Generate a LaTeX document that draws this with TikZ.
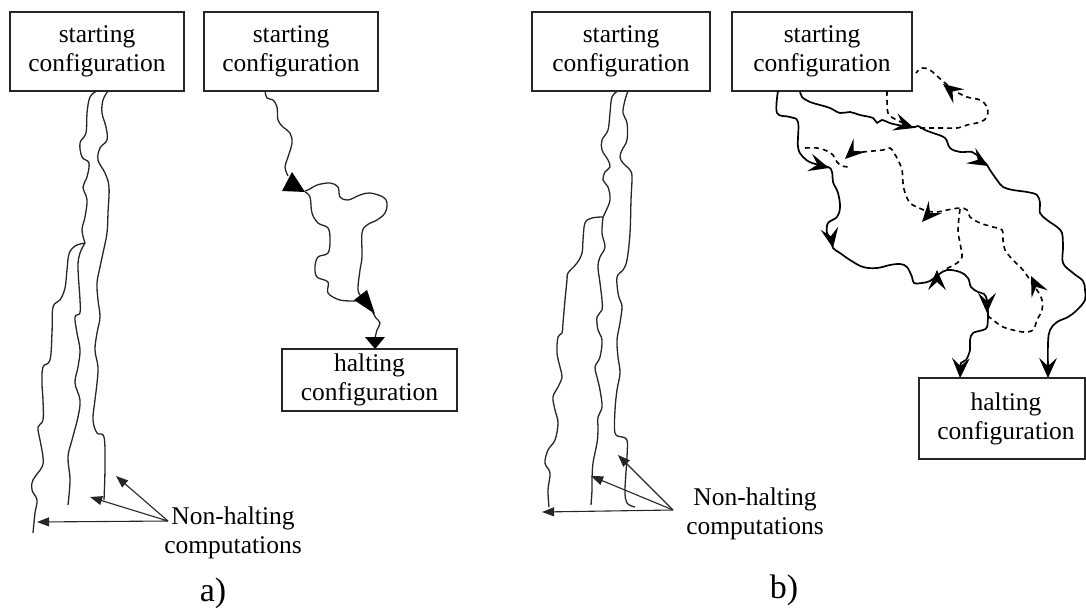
\documentclass[tikz,border=0pt]{standalone}
\usepackage{fontspec}
\setmainfont{Liberation Serif}
\usetikzlibrary{calc}
\tikzset{
  cfg/.style={draw=black!85, line width=1.4pt, fill=white, align=center, inner sep=0pt,
              font=\fontsize{25.5}{29}\selectfont},
  wig/.style={line width=1.3pt, black!85, line join=round},
  sol/.style={line width=1.7pt, black, line join=round},
  dsh/.style={line width=1.6pt, black, dash pattern=on 5pt off 4pt},
  ptr/.style={line width=1.1pt, black!85},
  lbl/.style={align=center, font=\fontsize{25.5}{29}\selectfont, inner sep=0pt},
  subcap/.style={font=\fontsize{34}{34}\selectfont, inner sep=0pt},
  tri/.style={fill=black}
}
% barbed head: #1 = point behind the head, #2 = apex
\newcommand\barbhead[2]{\fill (#2) -- ($(#2)!22pt!24:(#1)$) -- ($(#2)!12pt!(#1)$) -- ($(#2)!22pt!-24:(#1)$) -- cycle;}
% small solid triangle head for the label pointers
\newcommand\trihead[2]{\fill[black!85] (#2) -- ($(#2)!13pt!21:(#1)$) -- ($(#2)!13pt!-21:(#1)$) -- cycle;}
\begin{document}
\begin{tikzpicture}[x=1pt,y=-1pt]
\useasboundingbox (0,0) rectangle (1086,610);

% ---------------- part a) ----------------
\node[cfg, minimum width=174pt, minimum height=79pt] (startA) at (97,51.5) {starting\\configuration};
\node[cfg, minimum width=174pt, minimum height=79pt] (startA2) at (291,51.5) {starting\\configuration};
\node[cfg, minimum width=175pt, minimum height=62pt] (haltA) at (369.5,380) {halting\\configuration};

% non-halting runs from the first start box
\draw[wig] plot[smooth, tension=0.6] coordinates {(108,91) (103,100) (102,113) (106,127) (107,140) (100,148) (98,160) (105,173) (109,187) (108,213) (107,233) (103,253) (100,267) (97,283) (98,300) (100,317) (97,333) (95,350) (98,367) (97,383) (95,400) (93,420) (97,433) (104,437) (105,467) (104,500)};
\draw[wig] plot[smooth, tension=0.6] coordinates {(97,91) (90,97) (87,113) (86,133) (80,143) (82,157) (89,163) (87,177) (83,187) (87,200) (85,217) (82,230) (85,243)};
\draw[wig] plot[smooth, tension=0.6] coordinates {(85,243) (75,246) (69,254) (67,270) (65,288) (60,300) (53,307) (52,333) (50,360) (43,367) (42,383) (43,400) (43,420) (38,427) (40,440) (43,457) (42,467) (33,480) (32,490) (37,500) (35,513) (33,533)};
\draw[wig] plot[smooth, tension=0.6] coordinates {(85,243) (80,253) (78,267) (80,300) (80,313) (75,317) (77,333) (80,350) (78,367) (75,383) (80,400) (78,417) (72,440) (68,457) (70,480) (68,505)};

\node[lbl] (nhA) at (233,532.5) {Non-halting\\computations};
\coordinate (nhAo) at (168,521);
\coordinate (tA1) at (116,476);
\coordinate (tA2) at (90,497);
\coordinate (tA3) at (37,522);
\foreach \t in {tA1,tA2,tA3}{
  \draw[ptr] (nhAo) -- ($(\t)!8pt!(nhAo)$);
  \trihead{nhAo}{\t}
}

% halting run from the second start box
\draw[wig] plot[smooth, tension=0.6] coordinates {(265,91) (267,98) (273,100) (277,107) (278,120) (283,127) (290,133) (292,143) (288,157) (285,167) (288,176)};
\fill[tri] (292,172) -- (282,191) -- (305,192) -- cycle;
\draw[wig] plot[smooth, tension=0.6] coordinates {(305,191) (310,189) (317,185) (330,183) (338,187) (340,197) (348,200) (360,195) (370,193) (383,197) (387,203) (385,213) (377,220) (367,225) (362,233) (362,257) (360,270) (358,290) (362,297)};
\draw[wig] plot[smooth, tension=0.6] coordinates {(305,192) (310,197) (312,213) (318,223) (328,228) (330,240) (328,253) (318,257) (315,267) (317,277) (328,282) (328,293) (340,300) (356,301)};
\fill[tri] (354,300) -- (367,290) -- (375,314) -- cycle;
\draw[wig] plot[smooth, tension=0.6] coordinates {(372,311) (376,318) (380,323) (377,330) (375,338)};
\fill[tri] (365,337) -- (385,337) -- (375,349) -- cycle;

\node[subcap] (capA) at (213,593) {a)};

% ---------------- part b) ----------------
\node[cfg, minimum width=178pt, minimum height=79pt] (startB) at (621,51.5) {starting\\configuration};
\node[cfg, minimum width=180pt, minimum height=79pt] (startB2) at (822,51.5) {starting\\configuration};
\node[cfg, minimum width=166pt, minimum height=81pt] (haltB) at (1002,418.5) {};
\node[lbl] (haltBt) at (1006,419) {halting\\configuration};

% non-halting runs
\draw[wig] plot[smooth, tension=0.6] coordinates {(628,91) (625,100) (623,113) (627,123) (627,140) (622,150) (620,157) (623,163) (630,170) (632,177) (631,200) (630,233) (627,260) (623,270) (617,277) (618,293) (620,300) (622,307) (620,323) (617,340) (618,357) (620,373) (617,390) (615,410) (615,433) (622,437) (627,440) (627,457) (625,490) (627,503) (635,507)};
\draw[wig] plot[smooth, tension=0.6] coordinates {(618,91) (612,97) (610,113) (608,130) (602,140) (602,150) (608,160) (610,167) (605,172) (603,180) (608,187) (610,200) (605,213) (603,217)};
\draw[wig] plot[smooth, tension=0.6] coordinates {(603,217) (602,233) (605,247) (600,257) (598,267) (600,283) (602,300) (602,310) (597,317) (598,330) (602,340) (600,357) (595,367) (597,377) (600,390) (602,407) (598,417) (598,430) (597,443) (593,463) (592,480) (592,490) (591,505)};
\draw[wig] plot[smooth, tension=0.6] coordinates {(603,217) (592,218) (585,223) (583,240) (582,253) (577,263) (568,273) (567,280) (565,300) (563,323) (562,333) (558,337) (557,353) (560,367) (562,377) (558,387) (553,397) (555,410) (558,423) (555,440) (548,450) (545,463) (550,473) (548,490) (549,507)};

\node[lbl] (nhB) at (755,514) {Non-halting\\computations};
\coordinate (nhBo) at (673,510);
\coordinate (tB1) at (618,455);
\coordinate (tB2) at (591,476);
\coordinate (tB3) at (542,512);
\foreach \t in {tB1,tB2,tB3}{
  \draw[ptr] (nhBo) -- ($(\t)!8pt!(nhBo)$);
  \trihead{nhBo}{\t}
}

% forward runs (solid)
\draw[sol] plot[smooth, tension=0.6] coordinates {(800,91) (802,97) (810,102) (820,105) (830,108) (840,113) (850,112) (860,115) (873,118) (877,123) (882,120) (893,124) (913,127) (918,126) (925,130) (933,133) (945,138) (950,148) (960,152) (972,152) (980,158) (987,165) (990,170) (997,180) (1003,187) (1013,190) (1027,192) (1037,195) (1040,203) (1040,213) (1047,220) (1057,227) (1062,233) (1063,247) (1063,263) (1073,273) (1083,281) (1085,290) (1085,300) (1077,310) (1068,317) (1057,322) (1050,330) (1048,343) (1048,372)};
\draw[sol] plot[smooth, tension=0.6] coordinates {(778,91) (777,113) (790,117) (798,122) (798,147) (803,157) (812,163) (828,167) (832,172) (833,182) (838,193) (840,207) (837,217) (828,223) (827,233) (831,240) (833,248) (840,253) (850,260) (863,267) (877,268) (890,265) (900,264) (907,267) (912,277) (914,283) (922,283) (930,281) (938,275) (947,270) (960,272) (968,278) (971,287) (978,292) (984,294) (987,300) (988,313) (988,317) (987,327) (983,330) (973,333) (970,340) (970,350) (966,360) (961,363) (960,372)};

% backward runs (dashed)
\draw[dsh] plot[smooth, tension=0.6] coordinates {(887,91) (887,100) (888,113) (893,118) (903,123)};
\draw[dsh] plot[smooth, tension=0.6] coordinates {(920,128) (930,128) (943,128) (957,128) (967,125) (980,122) (987,117) (987,107) (980,100) (967,97) (955,91) (945,83) (937,76) (930,70) (922,68) (916,73)};
\draw[dsh] plot[smooth, tension=0.6] coordinates {(805,148) (817,148) (827,151) (833,155) (837,162) (842,166) (850,167)};
\draw[dsh] plot[smooth, tension=0.6] coordinates {(862,152) (873,151) (883,150) (890,148) (894,153) (898,160) (902,170) (903,183) (905,193) (910,203) (917,207) (927,211) (937,212) (947,210) (960,208) (967,210) (970,217) (980,223) (993,227) (1002,230) (1003,240) (1005,250) (1013,260) (1023,270) (1030,280) (1037,290) (1042,300) (1042,310) (1037,320) (1033,330) (1023,332) (1013,330) (1003,327) (993,320) (988,316)};
\draw[dsh] plot[smooth, tension=0.6] coordinates {(960,209) (958,230) (960,243) (962,257) (957,263) (950,267) (943,270)};

% arrowheads along the runs
\barbhead{892,121}{914,128}
\barbhead{968,154}{988,166}
\barbhead{1048,354}{1048,378}
\barbhead{808,162}{829,168}
\barbhead{829,226}{833,248}
\barbhead{937,293}{937,270}
\barbhead{987,291}{987,313}
\barbhead{961,355}{960,378}
\barbhead{961,98}{943,84}
\barbhead{862,143}{845,159}
\barbhead{939,203}{922,222}
\barbhead{1041,297}{1031,276}

\node[subcap] (capB) at (784,590) {b)};
\end{tikzpicture}
\end{document}
